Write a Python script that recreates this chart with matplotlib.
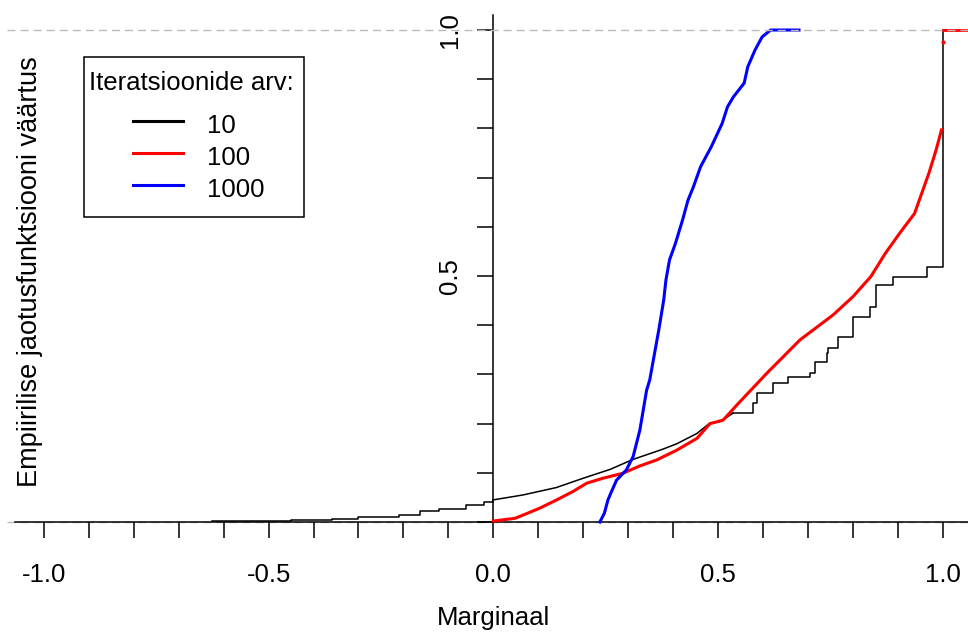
import matplotlib
matplotlib.use("Agg")
import matplotlib.pyplot as plt
from matplotlib.lines import Line2D
from matplotlib.patches import Rectangle

plt.rcParams['font.family'] = ['Liberation Sans', 'DejaVu Sans']
plt.rcParams['axes.unicode_minus'] = False

# ---- data ----
series_labels = ["10", "100", "1000"]
series_colors = ["black", "red", "blue"]

# 10 iterations: ECDF, three stretches
x_10_a = [-0.626, -0.45, -0.36, -0.30, -0.21, -0.164, -0.12, -0.06, -0.02, 0.0]
y_10_a = [0.002, 0.004, 0.007, 0.0095, 0.0136, 0.022, 0.027, 0.034, 0.041, 0.045]
x_10_b = [0.0, 0.066, 0.14, 0.20, 0.26, 0.31, 0.377, 0.408, 0.453, 0.48, 0.504, 0.533]
y_10_b = [0.045, 0.055, 0.07, 0.089, 0.107, 0.127, 0.148, 0.159, 0.18, 0.20, 0.204, 0.221]
x_10_c = [0.533, 0.578, 0.586, 0.622, 0.655, 0.704, 0.715, 0.742, 0.745, 0.766,
          0.800, 0.838, 0.851, 0.889, 0.965, 1.0, 1.012]
y_10_c = [0.221, 0.241, 0.262, 0.282, 0.295, 0.302, 0.326, 0.343, 0.353, 0.377,
          0.416, 0.438, 0.482, 0.497, 0.519, 1.0, 1.0]

# 100 iterations
x_100 = [0.0, 0.048, 0.066, 0.103, 0.141, 0.177, 0.208, 0.244, 0.288, 0.326,
         0.363, 0.408, 0.453, 0.482, 0.511, 0.545, 0.608, 0.682, 0.756, 0.80,
         0.84, 0.872, 0.904, 0.937, 0.953, 0.969, 0.985, 0.997]
y_100 = [0.002, 0.0075, 0.014, 0.028, 0.045, 0.062, 0.079, 0.089, 0.099, 0.114,
         0.126, 0.146, 0.170, 0.20, 0.207, 0.241, 0.302, 0.37, 0.421, 0.458,
         0.499, 0.546, 0.587, 0.627, 0.668, 0.709, 0.756, 0.797]
x_100_pt = [1.0]
y_100_pt = [0.976]
x_100_top = [1.0, 1.06]
y_100_top = [1.0, 1.0]

# 1000 iterations
x_1000 = [0.237, 0.247, 0.255, 0.262, 0.274, 0.296, 0.311, 0.326, 0.341, 0.348,
          0.368, 0.379, 0.384, 0.392, 0.405, 0.421, 0.433, 0.445, 0.461, 0.485,
          0.509, 0.521, 0.534, 0.558, 0.566, 0.582, 0.598, 0.617, 0.68]
y_1000 = [0.0, 0.018, 0.045, 0.06, 0.085, 0.106, 0.133, 0.187, 0.268, 0.289,
          0.39, 0.451, 0.492, 0.533, 0.566, 0.614, 0.654, 0.681, 0.722, 0.763,
          0.81, 0.844, 0.864, 0.892, 0.925, 0.959, 0.986, 1.0, 1.0]

x_major = [-1.0, -0.5, 0.0, 0.5, 1.0]
x_major_labels = ["-1.0", "-0.5", "0.0", "0.5", "1.0"]
x_minor = [-0.9, -0.8, -0.7, -0.6, -0.4, -0.3, -0.2, -0.1,
           0.1, 0.2, 0.3, 0.4, 0.6, 0.7, 0.8, 0.9]
y_major = [0.5, 1.0]
y_major_labels = ["0.5", "1.0"]
y_minor = [0.0, 0.1, 0.2, 0.3, 0.4, 0.6, 0.7, 0.8, 0.9]

legend_title = "Iteratsioonide arv:"
xlabel = "Marginaal"
ylabel = "Empiirilise jaotusfunktsiooni väärtus"

# ---- figure ----
W, H = 968, 637
fig = plt.figure(figsize=(W / 100, H / 100), dpi=100)
ax = fig.add_axes([7 / W, 105 / H, 961 / W, 522 / H])
ax.set_xlim(-1.082, 1.056)
ax.set_ylim(-0.0203, 1.0407)

fs = 18.5
c10, c100, c1000 = series_colors

ax.plot(x_10_a, y_10_a, drawstyle="steps-post", color=c10, lw=1.1, zorder=3)
ax.plot(x_10_b, y_10_b, color=c10, lw=1.1, zorder=3)
ax.plot(x_10_c, y_10_c, drawstyle="steps-post", color=c10, lw=1.1, zorder=3)

ax.plot(x_100, y_100, color=c100, lw=2.2, zorder=4)
ax.plot(x_100_pt, y_100_pt, color=c100, lw=0, marker="o", ms=3, mew=0, zorder=4)
ax.plot(x_100_top, y_100_top, color=c100, lw=2.0, zorder=4)

ax.plot(x_1000, y_1000, color=c1000, lw=2.2, zorder=6)

# reference dashed lines (drawn over the curves, as in the original)
ax.axhline(0.0, color="#bbbbbb", lw=1.0, ls=(0, (5.8, 3.6)), zorder=1)
ax.axhline(1.0, color="#bbbbbb", lw=1.0, ls=(0, (5.8, 3.6)), zorder=7)

# axes through origin
for s in ("top", "right"):
    ax.spines[s].set_visible(False)
ax.spines["left"].set_position(("data", 0))
ax.spines["bottom"].set_position(("data", 0))
ax.spines["left"].set_bounds(0, 1.03)
ax.spines["bottom"].set_bounds(-1.065, 1.056)
for s in ("left", "bottom"):
    ax.spines[s].set_linewidth(1.1)
    ax.spines[s].set_zorder(2)

ax.set_xticks(x_major)
ax.set_xticklabels(x_major_labels)
ax.set_xticks(x_minor, minor=True)
ax.set_yticks(y_major)
ax.set_yticklabels(y_major_labels)
ax.set_yticks(y_minor, minor=True)
ax.tick_params(axis="both", which="both", direction="out", length=11.2,
               width=1.1, labelsize=fs)
ax.tick_params(axis="x", which="major", pad=18)
ax.tick_params(axis="y", which="major", pad=11.5)
for t in ax.get_yticklabels():
    t.set_rotation(90)
    t.set_va("center")

ax.set_xlabel(xlabel, fontsize=fs)
ax.xaxis.set_label_coords(0.5061, -0.1427)
ax.set_ylabel(ylabel, fontsize=19.5)
ax.yaxis.set_label_coords(0.0375, 0.498)

# ---- legend box (figure pixel coordinates, top-left origin) ----
def fx(px):
    return px / W

def fy(py):
    return 1 - py / H

fig.add_artist(Rectangle((fx(84), fy(217)), fx(304) - fx(84), fy(57) - fy(217),
                         transform=fig.transFigure, facecolor="white",
                         edgecolor="black", lw=1.1, zorder=10))
fig.text(fx(89), fy(90), legend_title, fontsize=fs, ha="left", va="baseline",
         zorder=11)
line_rows = [120.7, 153.3, 185.0]
text_rows = [132.7, 164.7, 197.0]
for lab, col, ly, ty in zip(series_labels, series_colors, line_rows, text_rows):
    fig.add_artist(Line2D([fx(133), fx(183)], [fy(ly), fy(ly)],
                          transform=fig.transFigure, color=col, lw=2.2,
                          zorder=11))
    fig.text(fx(207), fy(ty), lab, fontsize=fs, ha="left", va="baseline",
             zorder=11)

fig.savefig("out.png", dpi=100)
